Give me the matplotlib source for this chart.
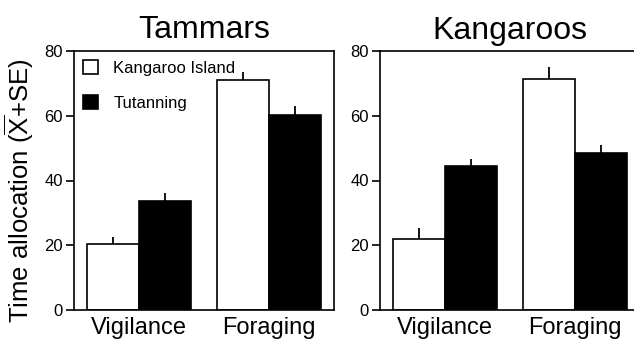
import matplotlib
matplotlib.use("Agg")
import matplotlib.pyplot as plt
import numpy as np

plt.rcParams["font.family"] = ["Liberation Sans", "DejaVu Sans"]
plt.rcParams["mathtext.fontset"] = "custom"
plt.rcParams["mathtext.rm"] = "Liberation Sans"
plt.rcParams["mathtext.it"] = "Liberation Sans"

# behaviour categories and populations
categories = ["Vigilance", "Foraging"]
populations = ["Kangaroo Island", "Tutanning"]

# mean time allocation and SE, per species
tammar_ki = [20.3, 71.1]
tammar_ki_se = [2.2, 2.4]
tammar_tut = [33.8, 60.3]
tammar_tut_se = [2.4, 2.8]

kangaroo_ki = [21.9, 71.3]
kangaroo_ki_se = [3.4, 3.7]
kangaroo_tut = [44.4, 48.5]
kangaroo_tut_se = [2.3, 2.4]

yticks = [0, 20, 40, 60, 80]

fig = plt.figure(figsize=(6.34, 3.39), dpi=100)
ax1 = fig.add_axes([74 / 634, 1 - 310 / 339, 260 / 634, 259 / 339])
ax2 = fig.add_axes([380 / 634, 1 - 310 / 339, 260 / 634, 259 / 339])

x = np.arange(len(categories))
w = 0.4


def draw_panel(ax, ki, ki_se, tut, tut_se, title):
    ax.bar(x - w / 2, ki, w, color="white", edgecolor="black", linewidth=1.2,
           label=populations[0], zorder=2)
    ax.bar(x + w / 2, tut, w, color="black", edgecolor="black", linewidth=1.2,
           label=populations[1], zorder=2)
    # upper error bars only, no caps
    ax.vlines(x - w / 2, ki, np.array(ki) + np.array(ki_se), color="black", lw=1.3, zorder=1)
    ax.vlines(x + w / 2, tut, np.array(tut) + np.array(tut_se), color="black", lw=1.3, zorder=1)
    ax.set_ylim(0, 80)
    ax.set_xlim(-0.5, 1.5)
    ax.set_yticks(yticks)
    ax.set_xticks(x)
    ax.set_xticklabels(categories, fontsize=17)
    ax.tick_params(axis="x", length=0, pad=5)
    ax.tick_params(axis="y", length=6, width=1.2, labelsize=12, pad=2)
    for s in ax.spines.values():
        s.set_linewidth(1.2)
    ax.set_title(title, fontsize=23, pad=9)


draw_panel(ax1, tammar_ki, tammar_ki_se, tammar_tut, tammar_tut_se, "Tammars")
draw_panel(ax2, kangaroo_ki, kangaroo_ki_se, kangaroo_tut, kangaroo_tut_se, "Kangaroos")

ax1.set_ylabel(r"Time allocation ($\overline{\mathrm{X}}$+SE)", fontsize=18.5)
ax1.yaxis.set_label_coords(-0.145, 0.46)

ax1.legend(loc="upper left", frameon=False, fontsize=12, handlelength=0.9,
           handleheight=0.9, labelspacing=1.15, handletextpad=0.9,
           borderaxespad=0.0, borderpad=0.55, bbox_to_anchor=(0.0, 1.0))

fig.savefig("out.png", dpi=100)
